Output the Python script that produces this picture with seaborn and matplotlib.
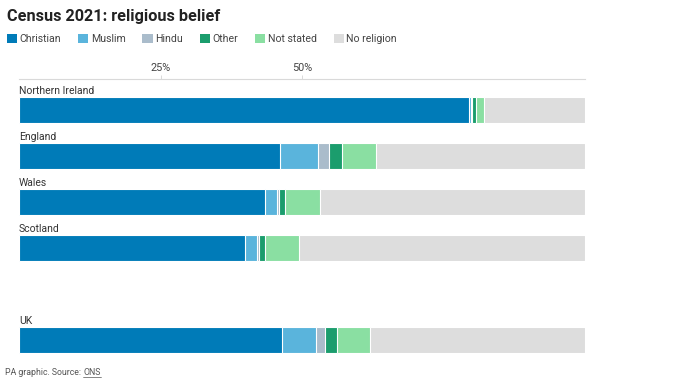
import numpy as np
import pandas as pd
import seaborn as sns
import matplotlib.pyplot as plt
from matplotlib.patches import Patch
from matplotlib.lines import Line2D

# Census 2021 religious belief, % of population
countries = ["Northern Ireland", "England", "Wales", "Scotland", "UK"]
christian = [79.5, 46.2, 43.5, 40.0, 46.5]
muslim = [0.4, 6.7, 2.1, 2.0, 6.0]
hindu = [0.2, 1.8, 0.4, 0.4, 1.5]
other = [0.6, 2.4, 1.0, 1.1, 2.1]
not_stated = [1.4, 6.0, 6.1, 6.0, 5.9]
no_religion = [17.9, 36.9, 46.9, 50.5, 38.0]

series = ["Christian", "Muslim", "Hindu", "Other", "Not stated", "No religion"]
colors = {
    "Christian": "#007bb8",
    "Muslim": "#5ab4dc",
    "Hindu": "#aabccb",
    "Other": "#1b9d6d",
    "Not stated": "#8adfa2",
    "No religion": "#dddddd",
}
# empty slot between Scotland and UK
order = ["Northern Ireland", "England", "Wales", "Scotland", " ", "UK"]

df = pd.DataFrame({
    "country": countries,
    "Christian": christian,
    "Muslim": muslim,
    "Hindu": hindu,
    "Other": other,
    "Not stated": not_stated,
    "No religion": no_religion,
})
cum = df[series].cumsum(axis=1)
cum["country"] = df["country"]

sns.set_theme(style="white")
plt.rcParams['font.family'] = ['Roboto', 'DejaVu Sans']

fig = plt.figure(figsize=(6.8, 3.83), dpi=100)
ax = fig.add_axes([19 / 680, 1 - 363 / 383, 566 / 680, (363 - 79) / 383])

# stacked bars: draw cumulative totals from the widest down
for name in reversed(series):
    sns.barplot(data=cum, x=name, y="country", order=order, orient="h",
                color=colors[name], saturation=1, width=0.57,
                edgecolor="white", linewidth=0.8, ax=ax)

ax.set_xlim(0, 100)
ax.set_ylim(5.5, -0.674)
ax.set_xlabel("")
ax.set_ylabel("")
ax.set_yticks([])

# country labels above each bar
for i, c in enumerate(order):
    if c.strip():
        ax.text(0, i - 0.31, c, ha="left", va="bottom", fontsize=7.5,
                color="#333333")

ax.xaxis.tick_top()
ax.set_xticks([25, 50])
ax.set_xticklabels(["25%", "50%"])
ax.tick_params(axis="x", length=3, width=0.6, color="#d5d5d5", pad=1.5,
               labelsize=7.8, labelcolor="#444444")
for s in ["left", "right", "bottom"]:
    ax.spines[s].set_visible(False)
ax.spines["top"].set_color("#d9d9d9")
ax.spines["top"].set_linewidth(0.8)

fig.text(7 / 680, 1 - 17 / 383, "Census 2021: religious belief",
         ha="left", va="center", fontsize=11.7, fontweight="bold",
         color="#222222")

handles = [Patch(facecolor=colors[s], edgecolor="none") for s in series]
fig.legend(handles, series, loc="upper left",
           bbox_to_anchor=(7 / 680, 1 - 34 / 383), ncol=6, frameon=False,
           handlelength=0.95, handleheight=0.95, handletextpad=0.25,
           columnspacing=1.6, fontsize=7.6, borderaxespad=0, borderpad=0,
           labelcolor="#444444")

# footer with underlined "ONS"
src = fig.text(5 / 680, 1 - 375 / 383, "PA graphic. Source: ",
               ha="left", va="baseline", fontsize=6.3, color="#555555")
fig.canvas.draw()
bb = src.get_window_extent().transformed(fig.transFigure.inverted())
ons = fig.text(bb.x1, 1 - 375 / 383, "ONS", ha="left", va="baseline",
               fontsize=6.3, color="#555555")
fig.canvas.draw()
ob = ons.get_window_extent().transformed(fig.transFigure.inverted())
uy = 1 - 376.5 / 383
fig.add_artist(Line2D([ob.x0, ob.x1], [uy, uy], transform=fig.transFigure,
                      color="#555555", linewidth=0.5))

fig.savefig("out.png", dpi=100)
